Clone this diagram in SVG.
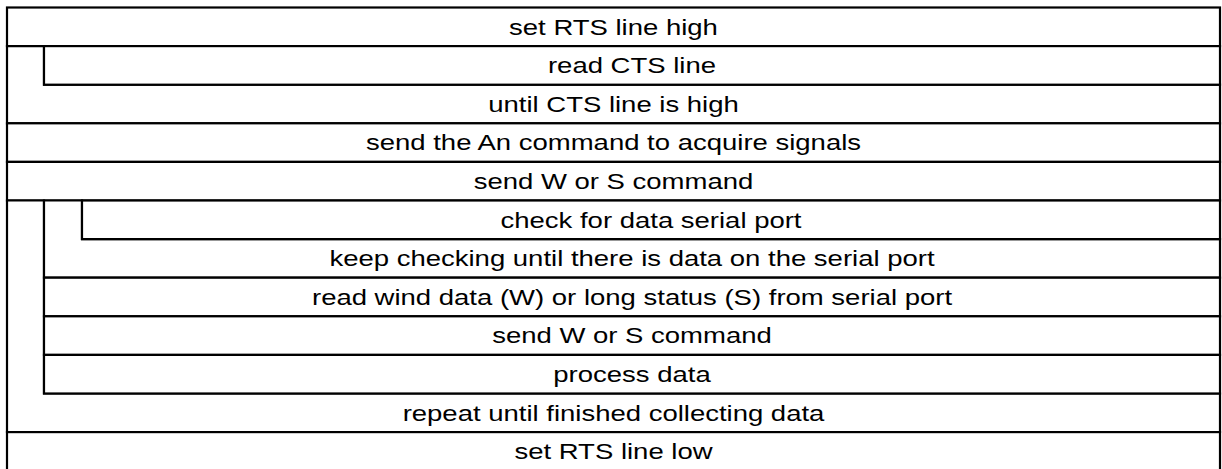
<svg xmlns="http://www.w3.org/2000/svg" width="1222" height="469" viewBox="0 0 1222 469">
<style>
.b{fill:#fff;stroke:#000;stroke-width:2.2;stroke-linejoin:miter}
.t{font-family:"Liberation Sans",Arial,sans-serif;font-size:22px;fill:#000;text-anchor:middle}
</style>
<rect x="0" y="0" width="1222" height="469" fill="#fff"/>
<g id="nodes">
<g id="n1"><rect class="b" x="7" y="7.5" width="1213" height="38.6"/><text class="t" transform="translate(613.5,34.5) scale(1.25,1)">set RTS line high</text></g>
<g id="n3"><polygon class="b" points="7,46.1 44,46.1 44,84.7 1220,84.7 1220,123.3 7,123.3"/><text class="t" transform="translate(613.5,111.7) scale(1.25,1)">until CTS line is high</text></g>
<g id="n2"><rect class="b" x="44" y="46.1" width="1176" height="38.6"/><text class="t" transform="translate(632,73.1) scale(1.25,1)">read CTS line</text></g>
<g id="n4"><rect class="b" x="7" y="123.3" width="1213" height="38.6"/><text class="t" transform="translate(613.5,150.3) scale(1.25,1)">send the An command to acquire signals</text></g>
<g id="n5"><rect class="b" x="7" y="161.9" width="1213" height="38.6"/><text class="t" transform="translate(613.5,188.9) scale(1.25,1)">send W or S command</text></g>
<g id="n11"><polygon class="b" points="7,200.5 44,200.5 44,393.5 1220,393.5 1220,432.1 7,432.1"/><text class="t" transform="translate(613.5,420.5) scale(1.25,1)">repeat until finished collecting data</text></g>
<g id="n7"><polygon class="b" points="44,200.5 82,200.5 82,239.1 1220,239.1 1220,277.7 44,277.7"/><text class="t" transform="translate(632,266.1) scale(1.25,1)">keep checking until there is data on the serial port</text></g>
<g id="n6"><rect class="b" x="82" y="200.5" width="1138" height="38.6"/><text class="t" transform="translate(651,227.5) scale(1.25,1)">check for data serial port</text></g>
<g id="n8"><rect class="b" x="44" y="277.7" width="1176" height="38.6"/><text class="t" transform="translate(632,304.7) scale(1.25,1)">read wind data (W) or long status (S) from serial port</text></g>
<g id="n9"><rect class="b" x="44" y="316.3" width="1176" height="38.6"/><text class="t" transform="translate(632,343.3) scale(1.25,1)">send W or S command</text></g>
<g id="n10"><rect class="b" x="44" y="354.9" width="1176" height="38.6"/><text class="t" transform="translate(632,381.9) scale(1.25,1)">process data</text></g>
<g id="n12"><rect class="b" x="7" y="432.1" width="1213" height="38.6"/><text class="t" transform="translate(613.5,459.1) scale(1.25,1)">set RTS line low</text></g>
</g>
<g id="connectors"></g>
</svg>
